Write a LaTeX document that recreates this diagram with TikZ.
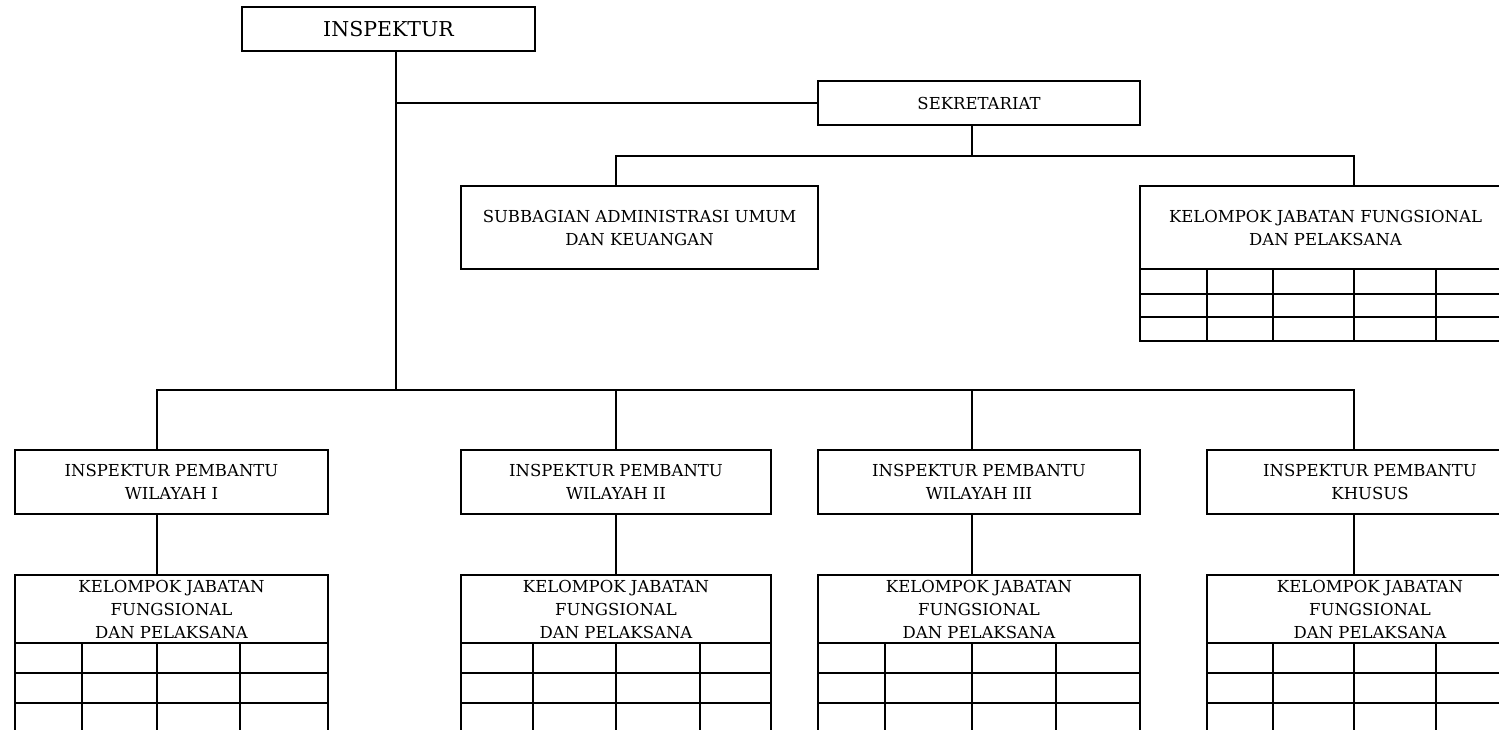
\documentclass[tikz,border=0pt]{standalone}
\usepackage{tikz}
\usepackage{fontspec}
\setmainfont{DejaVu Serif}

\begin{document}
\begin{tikzpicture}[
    x=1pt, y=-1pt,
    line width=1.6pt,
    unit/.style={draw, align=center, anchor=north west, inner sep=2pt,
      outer sep=0pt, font=\fontsize{16.5}{23}\selectfont},
  ]
  \useasboundingbox (0,0) rectangle (1499,730);

  % pimpinan dan sekretariat
  \node[unit, minimum width=293pt, minimum height=44pt,
    font=\fontsize{20.5}{25}\selectfont] (insp) at (242,7) {INSPEKTUR};
  \node[unit, minimum width=322pt, minimum height=44pt] (sek) at (818,81) {SEKRETARIAT};
  \node[unit, minimum width=357pt, minimum height=83pt] (sub) at (461,186)
    {SUBBAGIAN ADMINISTRASI UMUM\\DAN KEUANGAN};
  \node[unit, minimum width=371pt, minimum height=83pt] (kjs) at (1140,186)
    {KELOMPOK JABATAN FUNGSIONAL\\DAN PELAKSANA};

  % inspektur pembantu
  \node[unit, minimum width=313pt, minimum height=64pt] (ip1) at (15,450)
    {INSPEKTUR PEMBANTU\\WILAYAH I};
  \node[unit, minimum width=310pt, minimum height=64pt] (ip2) at (461,450)
    {INSPEKTUR PEMBANTU\\WILAYAH II};
  \node[unit, minimum width=322pt, minimum height=64pt] (ip3) at (818,450)
    {INSPEKTUR PEMBANTU\\WILAYAH III};
  \node[unit, minimum width=326pt, minimum height=64pt] (ip4) at (1207,450)
    {INSPEKTUR PEMBANTU\\KHUSUS};

  % kelompok jabatan fungsional
  \node[unit, minimum width=313pt, minimum height=68pt] (kj1) at (15,575)
    {KELOMPOK JABATAN\\FUNGSIONAL\\DAN PELAKSANA};
  \node[unit, minimum width=310pt, minimum height=68pt] (kj2) at (461,575)
    {KELOMPOK JABATAN\\FUNGSIONAL\\DAN PELAKSANA};
  \node[unit, minimum width=322pt, minimum height=68pt] (kj3) at (818,575)
    {KELOMPOK JABATAN\\FUNGSIONAL\\DAN PELAKSANA};
  \node[unit, minimum width=326pt, minimum height=68pt] (kj4) at (1207,575)
    {KELOMPOK JABATAN\\FUNGSIONAL\\DAN PELAKSANA};

  % tabel
  \draw (kjs.south west) -- (1140,341) -- (1520,341);
  \foreach \y in {294,317} \draw (1140,\y) -- (1520,\y);
  \foreach \x in {1207,1273,1354,1436} \draw (\x,269) -- (\x,341);
  \foreach \x in {15,82,157,240,328,461,533,616,700,771,818,885,972,1056,1140,1207,1273,1354,1436}
    \draw (\x,643) -- (\x,745);
  \foreach \y in {673,703,733} {
    \draw (15,\y) -- (328,\y);
    \draw (461,\y) -- (771,\y);
    \draw (818,\y) -- (1140,\y);
    \draw (1207,\y) -- (1540,\y);
  }

  % garis
  \coordinate (spine) at (396,390);
  \coordinate (sekbus) at (972,156);
  \coordinate (subbus) at (616,156);
  \coordinate (kjsbus) at (1354,156);
  \coordinate (bus1) at (157,390);
  \coordinate (bus2) at (616,390);
  \coordinate (bus3) at (972,390);
  \coordinate (bus4) at (1354,390);
  \draw (insp.south -| spine) -- (spine);
  \draw (spine |- sek.west) -- (sek.west);
  \draw (sek.south -| sekbus) -- (sekbus);
  \draw (subbus |- sub.north) -- (subbus) -- (kjsbus) -- (kjsbus |- kjs.north);
  \draw (bus1 |- ip1.north) -- (bus1) -- (bus4) -- (bus4 |- ip4.north);
  \draw (bus2) -- (bus2 |- ip2.north);
  \draw (bus3) -- (bus3 |- ip3.north);
  \draw (ip1.south -| bus1) -- (bus1 |- kj1.north);
  \draw (ip2.south -| bus2) -- (bus2 |- kj2.north);
  \draw (ip3.south -| bus3) -- (bus3 |- kj3.north);
  \draw (ip4.south -| bus4) -- (bus4 |- kj4.north);
\end{tikzpicture}
\end{document}
